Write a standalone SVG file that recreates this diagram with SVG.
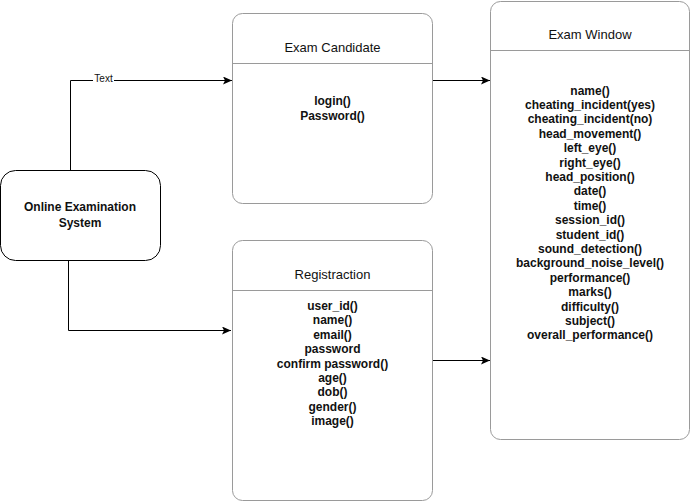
<svg xmlns="http://www.w3.org/2000/svg" width="691" height="501" viewBox="0 0 691 501">
<defs>
<marker id="arr" markerWidth="10" markerHeight="8" refX="9" refY="4" orient="auto" markerUnits="userSpaceOnUse">
<path d="M0,0 L9,4 L0,8 L2,4 Z" fill="#000"/>
</marker>
<style>
.box{fill:#fff;stroke:#9a9a9a;stroke-width:1}
.div{stroke:#9a9a9a;stroke-width:1}
.title{font-family:"Liberation Sans",Arial,sans-serif;font-size:13px;fill:#111;text-anchor:middle}
.item{font-family:"Liberation Sans",Arial,sans-serif;font-size:12px;font-weight:bold;fill:#111;text-anchor:middle}
.edge{fill:none;stroke:#000;stroke-width:1}
.lbl{font-family:"Liberation Sans",Arial,sans-serif;font-size:10px;fill:#111;text-anchor:middle}
</style>
</defs>
<rect width="691" height="501" fill="#fff"/>
<g id="connectors">
<path class="edge" d="M70.5,170 V80.5 H232" marker-end="url(#arr)"/>
<rect x="93" y="73" width="21" height="11" fill="#fff"/>
<text class="lbl" x="103.5" y="82">Text</text>
<path class="edge" d="M68.5,260 V330.5 H231" marker-end="url(#arr)"/>
<path class="edge" d="M432,80.5 H490" marker-end="url(#arr)"/>
<path class="edge" d="M432,360.5 H490" marker-end="url(#arr)"/>
</g>
<g id="online-examination-system">
<rect x="0.5" y="170.5" width="160" height="90" rx="15" fill="#fff" stroke="#000" stroke-width="1"/>
<text class="item" x="80" y="211">Online Examination</text>
<text class="item" x="80" y="227">System</text>
</g>
<g id="exam-candidate">
<rect class="box" x="232.5" y="13.5" width="200" height="190" rx="10"/>
<line class="div" x1="232.5" y1="63.5" x2="432.5" y2="63.5"/>
<text class="title" x="332.5" y="52">Exam Candidate</text>
<text class="item" x="332.5" y="105">login()</text>
<text class="item" x="332.5" y="119.5">Password()</text>
</g>
<g id="registraction">
<rect class="box" x="232.5" y="240.5" width="200" height="260" rx="10"/>
<line class="div" x1="232.5" y1="290.5" x2="432.5" y2="290.5"/>
<text class="title" x="332.5" y="279">Registraction</text>
<text class="item" x="332.5" y="310">user_id()</text>
<text class="item" x="332.5" y="324.4">name()</text>
<text class="item" x="332.5" y="338.8">email()</text>
<text class="item" x="332.5" y="353.2">password</text>
<text class="item" x="332.5" y="367.6">confirm password()</text>
<text class="item" x="332.5" y="382">age()</text>
<text class="item" x="332.5" y="396.4">dob()</text>
<text class="item" x="332.5" y="410.8">gender()</text>
<text class="item" x="332.5" y="425.2">image()</text>
</g>
<g id="exam-window">
<rect class="box" x="490.5" y="1.5" width="199" height="438" rx="10"/>
<line class="div" x1="490.5" y1="50.5" x2="689.5" y2="50.5"/>
<text class="title" x="590" y="39">Exam Window</text>
<text class="item" x="590" y="94.5">name()</text>
<text class="item" x="590" y="108.9">cheating_incident(yes)</text>
<text class="item" x="590" y="123.3">cheating_incident(no)</text>
<text class="item" x="590" y="137.7">head_movement()</text>
<text class="item" x="590" y="152.1">left_eye()</text>
<text class="item" x="590" y="166.5">right_eye()</text>
<text class="item" x="590" y="180.9">head_position()</text>
<text class="item" x="590" y="195.3">date()</text>
<text class="item" x="590" y="209.7">time()</text>
<text class="item" x="590" y="224.1">session_id()</text>
<text class="item" x="590" y="238.5">student_id()</text>
<text class="item" x="590" y="252.9">sound_detection()</text>
<text class="item" x="590" y="267.3">background_noise_level()</text>
<text class="item" x="590" y="281.7">performance()</text>
<text class="item" x="590" y="296.1">marks()</text>
<text class="item" x="590" y="310.5">difficulty()</text>
<text class="item" x="590" y="324.9">subject()</text>
<text class="item" x="590" y="339.3">overall_performance()</text>
</g>
</svg>
